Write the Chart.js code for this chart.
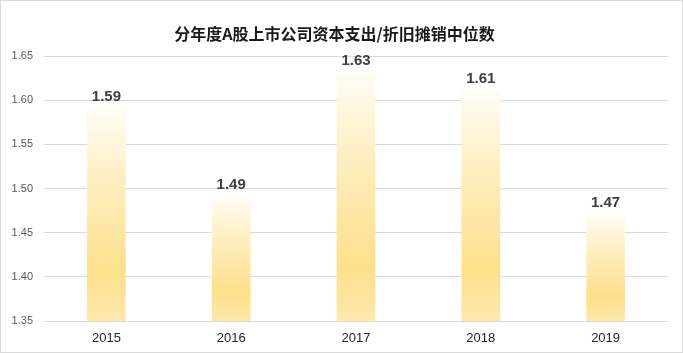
<!DOCTYPE html>
<html>
<head>
<meta charset="utf-8">
<script src="https://cdn.jsdelivr.net/npm/chart.js@4.4.1/dist/chart.umd.min.js"></script>
<style>
  html, body { margin: 0; padding: 0; background: #fff; }
  #wrap { width: 683px; height: 353px; box-sizing: border-box; border: 1px solid #d9d9d9; }
</style>
</head>
<body>
<div id="wrap"><canvas id="chart" width="681" height="351"></canvas></div>
<script>
// data
const years = ['2015', '2016', '2017', '2018', '2019'];
const medians = [1.59, 1.49, 1.63, 1.61, 1.47];
const yTicks = [1.35, 1.40, 1.45, 1.50, 1.55, 1.60, 1.65];
const titleText = '分年度A股上市公司资本支出/折旧摊销中位数';

// vertical gradient per bar, light at the top, yellow at the bottom
function barGradient(ctx) {
    const chart = ctx.chart;
    const yScale = chart.scales.y;
    if (!chart.chartArea || !yScale) return '#fde08a';
    const top = yScale.getPixelForValue(ctx.raw);
    const bottom = yScale.getPixelForValue(yScale.min);
    const g = chart.ctx.createLinearGradient(0, top, 0, bottom);
    g.addColorStop(0, '#fffdf3');
    g.addColorStop(0.35, '#feeebf');
    g.addColorStop(0.78, '#fde08a');
    g.addColorStop(1, '#fee9ad');
    return g;
}

// value labels above bars
const valueLabels = {
    id: 'valueLabels',
    afterDatasetsDraw(chart) {
        const c = chart.ctx;
        const meta = chart.getDatasetMeta(0);
        c.save();
        c.font = 'bold 15px "Liberation Sans", Arial, sans-serif';
        c.fillStyle = '#404040';
        c.textAlign = 'center';
        c.textBaseline = 'bottom';
        meta.data.forEach((bar, i) => {
            c.fillText(medians[i].toFixed(2), bar.x, bar.y - 5);
        });
        c.restore();
    }
};

new Chart(document.getElementById('chart'), {
    type: 'bar',
    data: {
        labels: years,
        datasets: [{
            data: medians,
            backgroundColor: barGradient,
            borderWidth: 0,
            barPercentage: 0.31,
            categoryPercentage: 1
        }]
    },
    options: {
        responsive: false,
        animation: false,
        layout: { padding: { left: 0, right: 14, top: 0, bottom: 0 } },
        plugins: {
            legend: { display: false },
            tooltip: { enabled: false },
            title: {
                display: true,
                text: titleText,
                color: '#1a1a1a',
                font: { family: '"Noto Sans CJK SC", sans-serif', size: 16, weight: 'bold' },
                padding: { top: 23, bottom: 13 }
            }
        },
        scales: {
            x: {
                grid: { display: false },
                border: { display: false },
                ticks: {
                    color: '#262626',
                    font: { family: '"Liberation Sans", Arial, sans-serif', size: 13 },
                    padding: 2
                },
                afterFit(scale) { scale.height = 31; }
            },
            y: {
                min: 1.35,
                max: 1.65,
                afterBuildTicks(scale) { scale.ticks = yTicks.map(v => ({ value: v })); },
                grid: { color: '#d9d9d9', drawTicks: false },
                border: { display: false },
                ticks: {
                    color: '#595959',
                    font: { family: '"Liberation Sans", Arial, sans-serif', size: 11 },
                    padding: 11,
                    callback: v => Number(v).toFixed(2)
                },
                afterFit(scale) { scale.width = 43; }
            }
        }
    },
    plugins: [valueLabels]
});
</script>
</body>
</html>
